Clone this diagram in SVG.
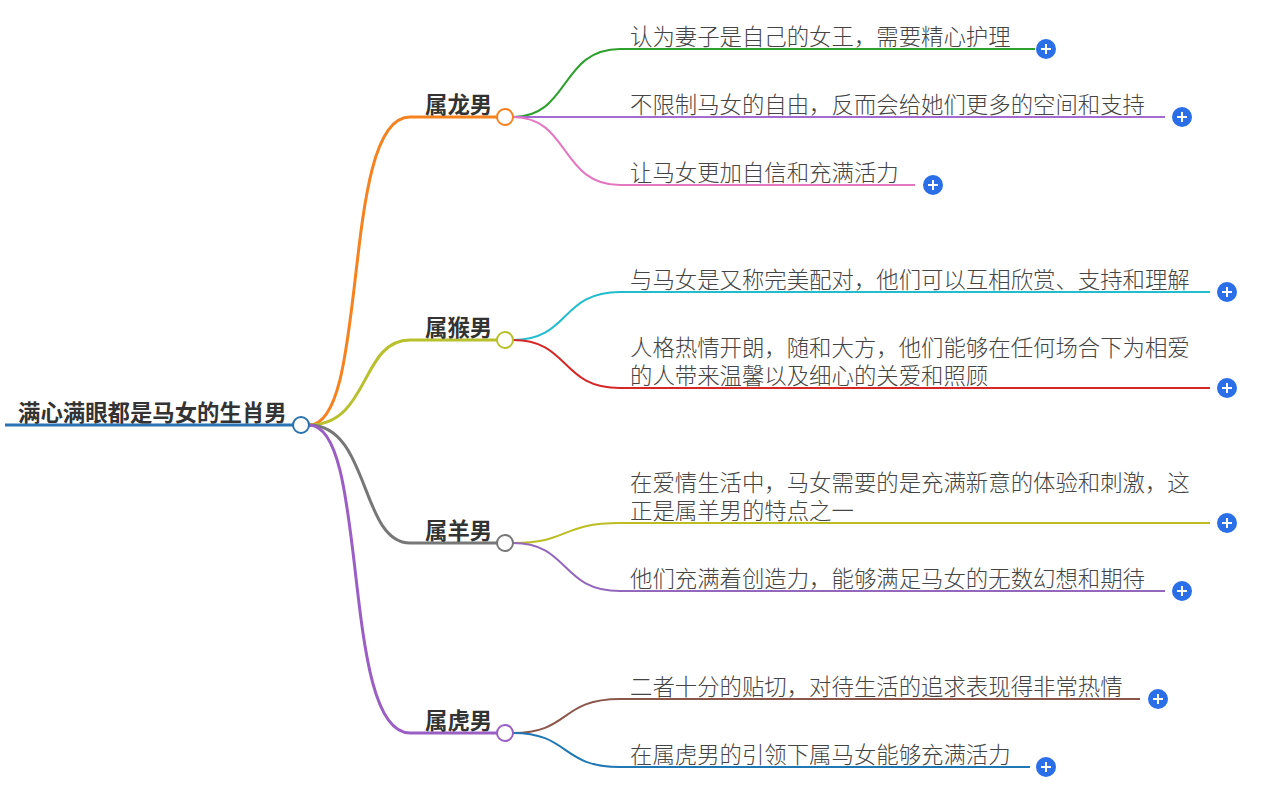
<svg xmlns="http://www.w3.org/2000/svg" width="1272" height="791" viewBox="0 0 1272 791">
<style>
.c{fill:none;stroke-width:2}
.b{fill:none;stroke-width:3}
.t{font-family:"Noto Sans CJK SC","Noto Sans",sans-serif;font-size:22.4px;fill:#444;font-weight:300}
.n{font-family:"Noto Sans CJK SC","Noto Sans",sans-serif;font-size:22.4px;fill:#333;font-weight:bold}
.k{fill:#fff;stroke-width:2}
</style>
<defs>
<g id="plus"><circle r="10" fill="#2a6fe8"/><path d="M-5 0H5M0-5V5" stroke="#fff" stroke-width="2"/></g>
</defs>
<rect width="1272" height="791" fill="#fff"/>
<g id="connectors">
<path class="b" stroke="#2a73b0" stroke-width="4" d="M5 425H293"/>
<path class="b" stroke="#f5821f" d="M309 425C370 425 340 117 410 117H497"/>
<path class="b" stroke="#b8c02c" d="M309 425C370 425 360 340 410 340H497"/>
<path class="b" stroke="#777" d="M309 425C370 425 360 543 410 543H497"/>
<path class="b" stroke="#9a5ec4" d="M309 425C370 425 340 733 410 733H497"/>
<path class="c" stroke="#2ea02e" d="M513 117C570 117 560 49 620 49H1035"/>
<path class="c" stroke="#a36bd0" d="M513 117H1165"/>
<path class="c" stroke="#e377c2" d="M513 117C570 117 560 185 620 185H915"/>
<path class="c" stroke="#22bccf" d="M513 340C570 340 560 292 620 292H1210"/>
<path class="c" stroke="#d62728" d="M513 340C570 340 560 388 620 388H1210"/>
<path class="c" stroke="#bcbd22" d="M513 543C570 543 560 523 620 523H1210"/>
<path class="c" stroke="#9467bd" d="M513 543C570 543 560 591 620 591H1165"/>
<path class="c" stroke="#8c564b" d="M513 733C570 733 560 699 620 699H1140"/>
<path class="c" stroke="#1f77b4" d="M513 733C570 733 560 767 620 767H1030"/>
</g>
<g id="root"><text class="n" x="18" y="421">满心满眼都是马女的生肖男</text><circle class="k" cx="301" cy="425" r="8" stroke="#2a73b0"/></g>
<g id="long"><text class="n" x="425" y="113">属龙男</text><circle class="k" cx="505" cy="117" r="8" stroke="#f5821f"/></g>
<g id="hou"><text class="n" x="425" y="336">属猴男</text><circle class="k" cx="505" cy="340" r="8" stroke="#b8c02c"/></g>
<g id="yang"><text class="n" x="425" y="539">属羊男</text><circle class="k" cx="505" cy="543" r="8" stroke="#777"/></g>
<g id="hu"><text class="n" x="425" y="729">属虎男</text><circle class="k" cx="505" cy="733" r="8" stroke="#9a5ec4"/></g>
<g id="l1"><text class="t" x="630" y="45">认为妻子是自己的女王，需要精心护理</text><use href="#plus" x="1046" y="49"/></g>
<g id="l2"><text class="t" x="630" y="113">不限制马女的自由，反而会给她们更多的空间和支持</text><use href="#plus" x="1182" y="117"/></g>
<g id="l3"><text class="t" x="630" y="181">让马女更加自信和充满活力</text><use href="#plus" x="933" y="185"/></g>
<g id="l4"><text class="t" x="630" y="288">与马女是又称完美配对，他们可以互相欣赏、支持和理解</text><use href="#plus" x="1227" y="292"/></g>
<g id="l5"><text class="t" x="630" y="356">人格热情开朗，随和大方，他们能够在任何场合下为相爱</text><text class="t" x="630" y="384">的人带来温馨以及细心的关爱和照顾</text><use href="#plus" x="1227" y="388"/></g>
<g id="l6"><text class="t" x="630" y="491">在爱情生活中，马女需要的是充满新意的体验和刺激，这</text><text class="t" x="630" y="519">正是属羊男的特点之一</text><use href="#plus" x="1227" y="523"/></g>
<g id="l7"><text class="t" x="630" y="587">他们充满着创造力，能够满足马女的无数幻想和期待</text><use href="#plus" x="1182" y="591"/></g>
<g id="l8"><text class="t" x="630" y="695">二者十分的贴切，对待生活的追求表现得非常热情</text><use href="#plus" x="1158" y="699"/></g>
<g id="l9"><text class="t" x="630" y="763">在属虎男的引领下属马女能够充满活力</text><use href="#plus" x="1046" y="767"/></g>
</svg>
